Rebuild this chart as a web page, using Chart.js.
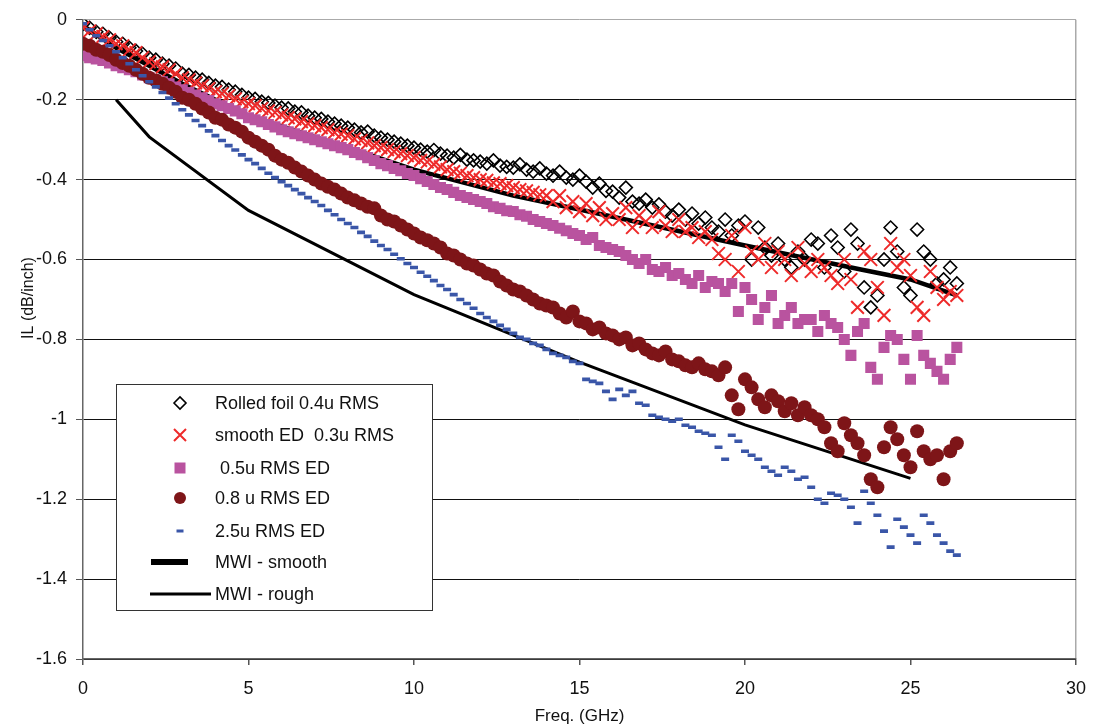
<!DOCTYPE html>
<html>
<head>
<meta charset="utf-8">
<script src="https://cdn.jsdelivr.net/npm/chart.js@4.4.1/dist/chart.umd.min.js"></script>
<style>
html,body{margin:0;padding:0;background:#fff;}
#wrap{width:1099px;height:728px;}
</style>
</head>
<body>
<div id="wrap"><canvas id="c" width="1099" height="728"></canvas></div>
<script>
// ---------- DATA ----------
const freq = [
0,0.2,0.4,0.6,0.8,1,1.2,1.4,1.6,1.8,
2,2.2,2.4,2.6,2.8,3,3.2,3.4,3.6,3.8,
4,4.2,4.4,4.6,4.8,5,5.2,5.4,5.6,5.8,
6,6.2,6.4,6.6,6.8,7,7.2,7.4,7.6,7.8,
8,8.2,8.4,8.6,8.8,9,9.2,9.4,9.6,9.8,
10,10.2,10.4,10.6,10.8,11,11.2,11.4,11.6,11.8,
12,12.2,12.4,12.6,12.8,13,13.2,13.4,13.6,13.8,
14,14.2,14.4,14.6,14.8,15,15.2,15.4,15.6,15.8,
16,16.2,16.4,16.6,16.8,17,17.2,17.4,17.6,17.8,
18,18.2,18.4,18.6,18.8,19,19.2,19.4,19.6,19.8,
20,20.2,20.4,20.6,20.8,21,21.2,21.4,21.6,21.8,
22,22.2,22.4,22.6,22.8,23,23.2,23.4,23.6,23.8,
24,24.2,24.4,24.6,24.8,25,25.2,25.4,25.6,25.8,
26,26.2,26.4];

const rolledFoil = [
-0.01,-0.02,-0.03,-0.035,-0.045,-0.055,-0.06,-0.07,-0.078,-0.085,
-0.095,-0.1,-0.11,-0.115,-0.122,-0.135,-0.138,-0.145,-0.15,-0.158,
-0.165,-0.168,-0.175,-0.18,-0.188,-0.195,-0.198,-0.205,-0.208,-0.215,
-0.22,-0.222,-0.23,-0.232,-0.24,-0.245,-0.248,-0.255,-0.26,-0.265,
-0.27,-0.275,-0.282,-0.28,-0.29,-0.295,-0.3,-0.305,-0.31,-0.315,
-0.32,-0.325,-0.33,-0.326,-0.335,-0.34,-0.345,-0.338,-0.35,-0.352,
-0.355,-0.36,-0.352,-0.365,-0.368,-0.37,-0.362,-0.375,-0.38,-0.372,
-0.385,-0.39,-0.38,-0.395,-0.4,-0.39,-0.405,-0.42,-0.41,-0.428,
-0.43,-0.445,-0.42,-0.455,-0.46,-0.45,-0.47,-0.462,-0.48,-0.49,
-0.475,-0.5,-0.485,-0.51,-0.495,-0.52,-0.53,-0.5,-0.54,-0.515,
-0.505,-0.6,-0.52,-0.57,-0.59,-0.56,-0.6,-0.62,-0.58,-0.6,
-0.55,-0.56,-0.62,-0.54,-0.57,-0.63,-0.525,-0.56,-0.67,-0.72,
-0.69,-0.6,-0.52,-0.58,-0.67,-0.69,-0.525,-0.58,-0.6,-0.66,
-0.65,-0.62,-0.66];

const smoothED = [
-0.02,-0.028,-0.035,-0.042,-0.05,-0.06,-0.065,-0.075,-0.082,-0.095,
-0.105,-0.11,-0.118,-0.125,-0.135,-0.145,-0.15,-0.158,-0.165,-0.172,
-0.18,-0.185,-0.19,-0.198,-0.205,-0.21,-0.215,-0.222,-0.228,-0.232,
-0.238,-0.245,-0.248,-0.255,-0.26,-0.265,-0.27,-0.275,-0.282,-0.286,
-0.29,-0.298,-0.302,-0.308,-0.315,-0.32,-0.325,-0.33,-0.335,-0.34,
-0.345,-0.352,-0.356,-0.362,-0.368,-0.375,-0.38,-0.384,-0.39,-0.395,
-0.4,-0.402,-0.408,-0.41,-0.415,-0.42,-0.425,-0.428,-0.432,-0.438,
-0.44,-0.455,-0.44,-0.47,-0.455,-0.48,-0.46,-0.49,-0.47,-0.5,
-0.485,-0.5,-0.47,-0.52,-0.49,-0.505,-0.52,-0.48,-0.515,-0.53,
-0.5,-0.53,-0.52,-0.545,-0.53,-0.55,-0.585,-0.6,-0.54,-0.63,
-0.52,-0.58,-0.6,-0.56,-0.62,-0.58,-0.6,-0.64,-0.57,-0.61,
-0.63,-0.6,-0.62,-0.64,-0.66,-0.6,-0.65,-0.72,-0.58,-0.6,
-0.67,-0.74,-0.56,-0.62,-0.6,-0.64,-0.72,-0.74,-0.63,-0.67,
-0.7,-0.68,-0.69];

const ed05 = [
-0.09,-0.095,-0.098,-0.102,-0.108,-0.115,-0.12,-0.125,-0.13,-0.138,
-0.145,-0.15,-0.155,-0.16,-0.168,-0.175,-0.182,-0.188,-0.195,-0.202,
-0.21,-0.215,-0.222,-0.228,-0.235,-0.245,-0.25,-0.255,-0.262,-0.268,
-0.275,-0.28,-0.285,-0.29,-0.295,-0.3,-0.305,-0.31,-0.315,-0.32,
-0.325,-0.332,-0.338,-0.345,-0.352,-0.36,-0.365,-0.372,-0.378,-0.385,
-0.39,-0.398,-0.405,-0.412,-0.42,-0.425,-0.432,-0.44,-0.445,-0.45,
-0.455,-0.46,-0.468,-0.472,-0.478,-0.48,-0.488,-0.492,-0.5,-0.505,
-0.51,-0.515,-0.522,-0.528,-0.535,-0.54,-0.55,-0.545,-0.565,-0.57,
-0.575,-0.58,-0.59,-0.6,-0.61,-0.6,-0.625,-0.63,-0.62,-0.64,
-0.635,-0.65,-0.66,-0.64,-0.67,-0.655,-0.66,-0.68,-0.66,-0.73,
-0.67,-0.7,-0.75,-0.72,-0.69,-0.76,-0.74,-0.72,-0.76,-0.75,
-0.75,-0.78,-0.74,-0.76,-0.77,-0.8,-0.84,-0.78,-0.76,-0.87,
-0.9,-0.82,-0.79,-0.8,-0.85,-0.9,-0.79,-0.84,-0.86,-0.88,
-0.9,-0.85,-0.82];

const ed08 = [
-0.06,-0.065,-0.075,-0.08,-0.088,-0.1,-0.108,-0.115,-0.125,-0.135,
-0.145,-0.152,-0.16,-0.17,-0.18,-0.195,-0.2,-0.21,-0.222,-0.232,
-0.245,-0.25,-0.262,-0.27,-0.28,-0.295,-0.305,-0.315,-0.325,-0.34,
-0.35,-0.358,-0.37,-0.38,-0.39,-0.4,-0.41,-0.418,-0.425,-0.435,
-0.445,-0.452,-0.46,-0.468,-0.472,-0.49,-0.5,-0.505,-0.515,-0.525,
-0.535,-0.545,-0.552,-0.56,-0.57,-0.585,-0.59,-0.6,-0.61,-0.615,
-0.625,-0.635,-0.64,-0.655,-0.665,-0.675,-0.68,-0.69,-0.7,-0.71,
-0.715,-0.72,-0.735,-0.745,-0.73,-0.755,-0.76,-0.775,-0.77,-0.785,
-0.79,-0.8,-0.795,-0.815,-0.81,-0.825,-0.835,-0.84,-0.83,-0.85,
-0.855,-0.865,-0.87,-0.86,-0.875,-0.88,-0.89,-0.87,-0.94,-0.975,
-0.9,-0.92,-0.95,-0.97,-0.94,-0.955,-0.98,-0.96,-0.99,-0.97,
-0.99,-1.0,-1.02,-1.06,-1.08,-1.01,-1.04,-1.06,-1.09,-1.15,
-1.17,-1.07,-1.02,-1.05,-1.09,-1.12,-1.03,-1.08,-1.1,-1.09,
-1.15,-1.08,-1.06];

const ed25 = [
-0.01,-0.025,-0.04,-0.052,-0.065,-0.08,-0.095,-0.11,-0.125,-0.14,
-0.155,-0.168,-0.182,-0.196,-0.21,-0.225,-0.238,-0.252,-0.265,-0.278,
-0.29,-0.302,-0.315,-0.326,-0.338,-0.35,-0.36,-0.372,-0.384,-0.395,
-0.405,-0.415,-0.425,-0.435,-0.445,-0.455,-0.465,-0.477,-0.488,-0.5,
-0.51,-0.52,-0.532,-0.542,-0.554,-0.565,-0.575,-0.587,-0.598,-0.61,
-0.62,-0.632,-0.642,-0.653,-0.665,-0.675,-0.688,-0.7,-0.71,-0.722,
-0.735,-0.745,-0.755,-0.765,-0.775,-0.785,-0.795,-0.8,-0.81,-0.815,
-0.825,-0.835,-0.84,-0.845,-0.855,-0.86,-0.9,-0.905,-0.91,-0.93,
-0.95,-0.925,-0.94,-0.93,-0.96,-0.965,-0.99,-0.995,-1.0,-1.005,
-1.0,-1.015,-1.02,-1.03,-1.035,-1.04,-1.07,-1.1,-1.04,-1.055,
-1.08,-1.09,-1.1,-1.12,-1.13,-1.14,-1.12,-1.13,-1.15,-1.145,
-1.17,-1.2,-1.21,-1.185,-1.19,-1.2,-1.22,-1.26,-1.18,-1.21,
-1.24,-1.28,-1.32,-1.25,-1.27,-1.29,-1.31,-1.24,-1.26,-1.29,
-1.31,-1.33,-1.34];

const mwiSmoothFreq = [0.1, 1, 2, 3, 5, 8, 10, 13, 15, 20, 23.5, 25, 26.4];
const mwiSmoothIL   = [-0.02, -0.07, -0.115, -0.16, -0.24, -0.32, -0.375, -0.44, -0.475, -0.565, -0.625, -0.65, -0.69];
const mwiRoughFreq  = [1, 2, 5, 10, 15, 20, 25];
const mwiRoughIL    = [-0.2, -0.293, -0.477, -0.688, -0.857, -1.014, -1.148];

const seriesNames = ['Rolled foil 0.4u RMS', 'smooth ED  0.3u RMS', ' 0.5u RMS ED', '0.8 u RMS ED', '2.5u RMS ED', 'MWI - smooth', 'MWI - rough'];
const xTickLabels = ['0','5','10','15','20','25','30'];
const yTickLabels = ['-1.6','-1.4','-1.2','-1','-0.8','-0.6','-0.4','-0.2','0'];
const xTitle = 'Freq. (GHz)';
const yTitle = 'IL (dB/inch)';

// ---------- BUILD ----------
const pts = (xs, ys) => xs.map((x, i) => ({x: x, y: ys[i]}));
const FONT = "'Liberation Sans', Arial, sans-serif";

const datasets = [
  {label: seriesNames[0], data: pts(freq, rolledFoil), pointStyle: 'rectRot', pointRadius: 6.5,
   borderColor: '#000', backgroundColor: 'rgba(0,0,0,0)', pointBorderWidth: 1.6, showLine: false, order: 5},
  {label: seriesNames[1], data: pts(freq, smoothED), pointStyle: 'crossRot', pointRadius: 9,
   borderColor: '#ee2a2a', backgroundColor: '#ee2a2a', pointBorderWidth: 2, showLine: false, order: 4},
  {label: seriesNames[2], data: pts(freq, ed05), pointStyle: 'rect', pointRadius: 7.8,
   borderColor: '#b9539f', backgroundColor: '#b9539f', pointBorderWidth: 0, showLine: false, order: 3},
  {label: seriesNames[3], data: pts(freq, ed08), pointStyle: 'circle', pointRadius: 7,
   borderColor: '#7e1518', backgroundColor: '#7e1518', pointBorderWidth: 0, showLine: false, order: 2},
  {label: seriesNames[4], data: pts(freq, ed25), pointStyle: 'line', pointRadius: 4,
   borderColor: '#3a56a8', backgroundColor: '#3a56a8', pointBorderWidth: 3.6, showLine: false, order: 1},
  {label: seriesNames[5], data: pts(mwiSmoothFreq, mwiSmoothIL), showLine: true, pointRadius: 0,
   borderColor: '#000', borderWidth: 4.5, fill: false, order: 7},
  {label: seriesNames[6], data: pts(mwiRoughFreq, mwiRoughIL), showLine: true, pointRadius: 0,
   borderColor: '#000', borderWidth: 3, fill: false, order: 6}
];

const yTitlePlugin = {
  id: 'yTitle',
  afterDraw(chart) {
    const ctx = chart.ctx;
    ctx.save();
    ctx.translate(29, 298);
    ctx.rotate(-Math.PI / 2);
    ctx.fillStyle = '#111';
    ctx.font = '16px ' + FONT;
    ctx.textAlign = 'center';
    ctx.textBaseline = 'middle';
    ctx.fillText(yTitle, 0, 0);
    ctx.restore();
  }
};

const legendPlugin = {
  id: 'boxLegend',
  afterDraw(chart) {
    const ctx = chart.ctx;
    const bx = 116.5, by = 384.5, bw = 316, bh = 226;
    ctx.save();
    ctx.fillStyle = '#fff';
    ctx.fillRect(bx, by, bw, bh);
    ctx.strokeStyle = '#333';
    ctx.lineWidth = 1;
    ctx.strokeRect(bx, by, bw, bh);
    const rows = [403, 435, 468, 498, 531, 562, 594];
    const mx = 180;
    chart.data.datasets.forEach((ds, i) => {
      const y = rows[i];
      ctx.save();
      ctx.strokeStyle = ds.borderColor;
      ctx.fillStyle = ds.backgroundColor || ds.borderColor;
      if (i === 0) {
        ctx.lineWidth = 1.6;
        ctx.beginPath();
        ctx.moveTo(mx - 6, y); ctx.lineTo(mx, y - 6); ctx.lineTo(mx + 6, y); ctx.lineTo(mx, y + 6); ctx.closePath();
        ctx.stroke();
      } else if (i === 1) {
        ctx.lineWidth = 2;
        ctx.beginPath();
        ctx.moveTo(mx - 6, y - 6); ctx.lineTo(mx + 6, y + 6);
        ctx.moveTo(mx + 6, y - 6); ctx.lineTo(mx - 6, y + 6);
        ctx.stroke();
      } else if (i === 2) {
        ctx.fillRect(mx - 5.5, y - 5.5, 11, 11);
      } else if (i === 3) {
        ctx.beginPath(); ctx.arc(mx, y, 6, 0, Math.PI * 2); ctx.fill();
      } else if (i === 4) {
        ctx.fillRect(mx - 3.5, y - 1.5, 7, 3);
      } else if (i === 5) {
        ctx.fillStyle = '#000';
        ctx.fillRect(151, y - 3, 37, 6);
      } else {
        ctx.fillStyle = '#000';
        ctx.fillRect(150, y - 1.5, 61, 3);
      }
      ctx.restore();
      ctx.fillStyle = '#111';
      ctx.font = '18px ' + FONT;
      ctx.textBaseline = 'middle';
      ctx.textAlign = 'left';
      ctx.fillText(ds.label, 215, y + 1);
    });
    ctx.restore();
  }
};

const yLabelFor = (v) => {
  const k = Math.round((v + 1.6) / 0.2);
  return yTickLabels[k] !== undefined ? yTickLabels[k] : '';
};
const xLabelFor = (v) => {
  const k = Math.round(v / 5);
  return xTickLabels[k] !== undefined ? xTickLabels[k] : '';
};

new Chart(document.getElementById('c'), {
  type: 'scatter',
  data: {datasets: datasets},
  options: {
    responsive: false,
    animation: false,
    devicePixelRatio: 1,
    layout: {padding: {left: 0, top: 15, right: 14, bottom: 0}},
    plugins: {legend: {display: false}, tooltip: {enabled: false}},
    scales: {
      x: {
        type: 'linear', min: 0, max: 30,
        ticks: {stepSize: 5, color: '#111', font: {size: 18, family: FONT}, padding: 13,
                callback: (v) => xLabelFor(v), maxRotation: 0},
        grid: {color: (c) => (c.tick && Math.abs(c.tick.value - 30) < 1e-6) ? '#aaa' : 'rgba(0,0,0,0)',
               tickColor: '#555', tickLength: 6, lineWidth: 1.5},
        border: {color: '#666', width: 1.5},
        title: {display: true, text: xTitle, color: '#111', font: {size: 17, family: FONT}, padding: {top: 0, bottom: 1}},
        afterFit: (s) => { s.height = 69; }
      },
      y: {
        type: 'linear', min: -1.6, max: 0,
        ticks: {stepSize: 0.2, color: '#111', font: {size: 18, family: FONT}, padding: 9,
                callback: (v) => yLabelFor(v)},
        grid: {color: (c) => (c.tick && Math.abs(c.tick.value) < 1e-6) ? '#aaa' : '#111',
               tickColor: '#555', tickLength: 7, lineWidth: 1},
        border: {color: '#666', width: 1.5},
        title: {display: false},
        afterFit: (s) => { s.width = 83; }
      }
    }
  },
  plugins: [legendPlugin, yTitlePlugin]
});
</script>
</body>
</html>
